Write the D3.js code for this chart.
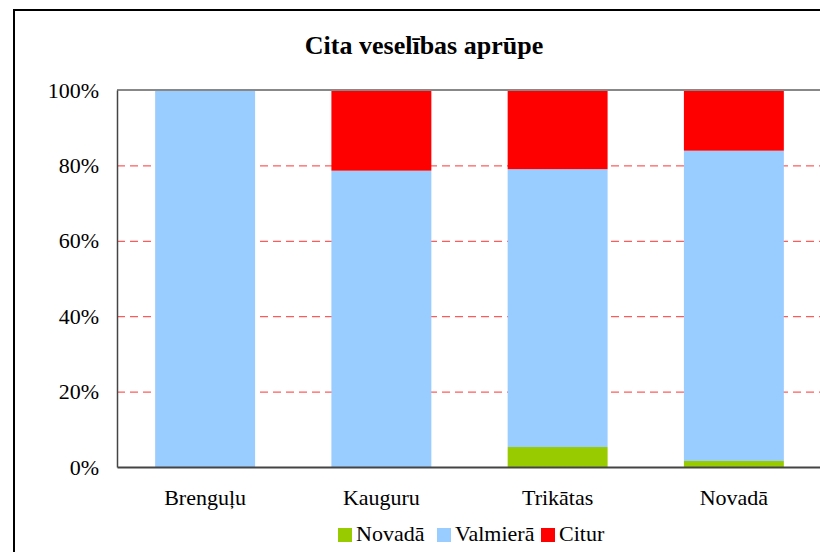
<!DOCTYPE html>
<html>
<head>
<meta charset="utf-8">
<script src="https://cdn.jsdelivr.net/npm/d3@7"></script>
<style>
  body { margin: 0; background: #fff; }
</style>
</head>
<body>
<svg id="chart"></svg>
<script>
// values in percent
var categories = ["Brenguļu", "Kauguru", "Trikātas", "Novadā"];
var seriesNames = ["Novadā", "Valmierā", "Citur"];
var novada   = [0,   0,    5.3,  1.6];
var valmiera = [100, 78.6, 73.7, 82.3];
var citur    = [0,   21.4, 21.0, 16.1];
var yTicks = [0, 20, 40, 60, 80, 100];

var colors = { "Novadā": "#99cc00", "Valmierā": "#99ccff", "Citur": "#ff0000" };
var serif = "'Liberation Serif', 'Times New Roman', 'DejaVu Serif', serif";

var outerWidth = 820;
var outerHeight = 552;
var margin = { left: 117, top: 90, right: -2, bottom: 85 };
var innerWidth  = outerWidth  - margin.left - margin.right;
var innerHeight = outerHeight - margin.top  - margin.bottom;

var svg = d3.select("#chart")
  .attr("width", outerWidth)
  .attr("height", outerHeight)
  .attr("font-family", serif);

// chart frame
svg.append("rect")
  .attr("x", 14).attr("y", 10)
  .attr("width", 820).attr("height", 560)
  .attr("fill", "none")
  .attr("stroke", "#000")
  .attr("stroke-width", 2);

svg.append("text")
  .attr("x", 424).attr("y", 54)
  .attr("text-anchor", "middle")
  .attr("font-family", serif)
  .style("font-size", "26px")
  .style("font-weight", "bold")
  .text("Cita veselības aprūpe");

var g = svg.append("g")
  .attr("transform", "translate(" + margin.left + "," + margin.top + ")");

var rows = categories.map(function (c, i) {
  return { cat: c, "Novadā": novada[i], "Valmierā": valmiera[i], "Citur": citur[i] };
});

var xScale = d3.scaleBand().domain(categories).range([0, innerWidth])
  .paddingInner(0.433).paddingOuter(0.2165);
var yScale = d3.scaleLinear().domain([0, 100]).range([innerHeight, 0]);

// gridlines
g.selectAll(".grid").data(yTicks.filter(function (d){ return d > 0 && d < 100; }))
  .enter().append("line")
  .attr("class", "grid")
  .attr("x1", 0).attr("x2", innerWidth)
  .attr("y1", function (d){ return yScale(d) + 0.5; })
  .attr("y2", function (d){ return yScale(d) + 0.5; })
  .attr("stroke", "#ff3333")
  .attr("stroke-width", 1)
  .attr("stroke-dasharray", "8,5");

var stacked = d3.stack().keys(seriesNames)(rows);

g.selectAll(".layer").data(stacked)
  .enter().append("g")
  .attr("class", "layer")
  .attr("fill", function (d){ return colors[d.key]; })
  .selectAll("rect").data(function (d){ return d; })
  .enter().append("rect")
  .attr("x", function (d){ return xScale(d.data.cat); })
  .attr("width", xScale.bandwidth())
  .attr("y", function (d){ return yScale(d[1]); })
  .attr("height", function (d){ return yScale(d[0]) - yScale(d[1]); });

// top border line of the plot
g.append("line")
  .attr("x1", 0).attr("x2", innerWidth)
  .attr("y1", 0).attr("y2", 0)
  .attr("stroke", "#888")
  .attr("stroke-width", 2);

// y axis
var yAxisG = g.append("g")
  .call(d3.axisLeft(yScale).tickValues(yTicks).tickSize(0).tickPadding(18)
    .tickFormat(function (d){ return d + "%"; }))
  .attr("font-family", serif)
  .attr("font-size", 22);
yAxisG.select(".domain").attr("stroke", "#444").attr("stroke-width", 1.5);
yAxisG.selectAll("text").attr("fill", "#000");

// x axis
var xAxisG = g.append("g")
  .attr("transform", "translate(0," + innerHeight + ")")
  .call(d3.axisBottom(xScale).tickSize(0).tickPadding(22))
  .attr("font-family", serif)
  .attr("font-size", 22);
xAxisG.select(".domain").attr("stroke", "#444").attr("stroke-width", 2);
xAxisG.selectAll("text").attr("fill", "#000");

// legend
var legendX = [338, 437, 541];
var legend = svg.selectAll(".legend").data(seriesNames)
  .enter().append("g")
  .attr("class", "legend")
  .attr("transform", function (d, i){ return "translate(" + legendX[i] + ",528)"; });
legend.append("rect")
  .attr("width", 14).attr("height", 14)
  .attr("fill", function (d){ return colors[d]; });
legend.append("text")
  .attr("x", 18).attr("y", 13)
  .attr("font-family", serif)
  .style("font-size", "22px")
  .text(function (d){ return d; });
</script>
</body>
</html>
